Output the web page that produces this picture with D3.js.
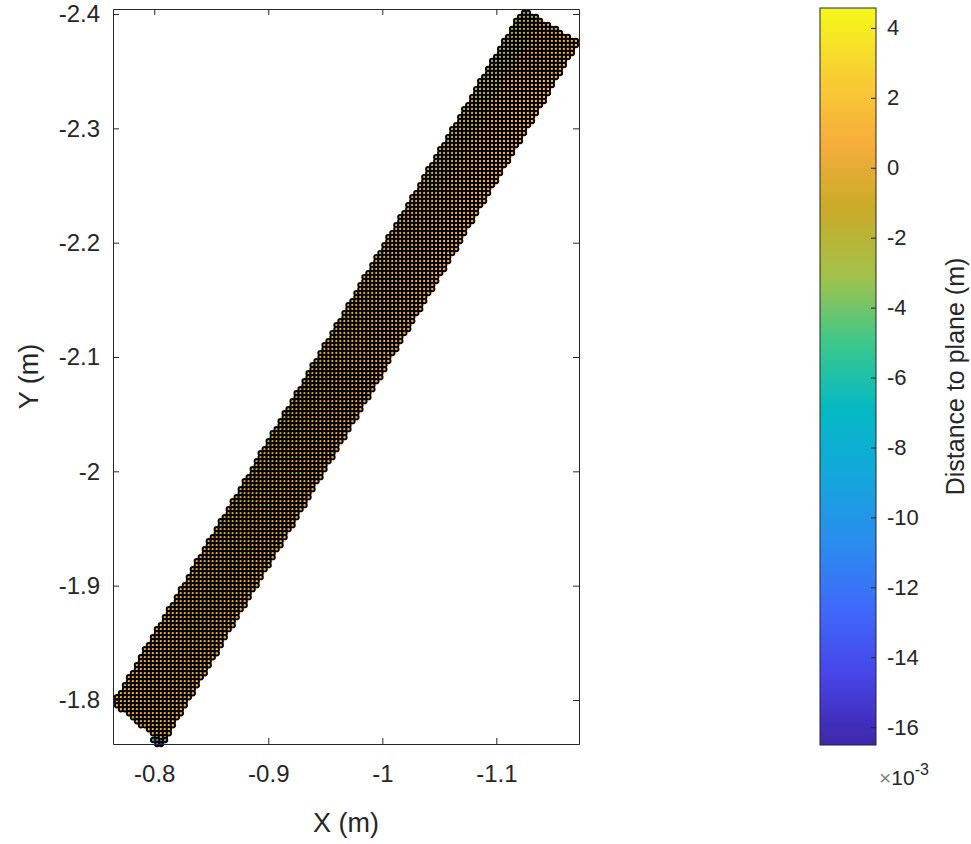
<!DOCTYPE html>
<html>
<head>
<meta charset="utf-8">
<script src="https://cdn.jsdelivr.net/npm/d3@7"></script>
<style>
  body { margin: 0; background: #fff; }
  svg { display: block; }
  text { font-family: "Liberation Sans", Arial, sans-serif; fill: #262626; }
</style>
</head>
<body>
<svg width="971" height="844"></svg>
<script>
"use strict";

// axis limits and ticks
const xLimits = [-0.7638, -1.1725];
const yLimits = [-1.7615, -2.4044];
const xTicks = [-0.8, -0.9, -1, -1.1];
const yTicks = [-2.4, -2.3, -2.2, -2.1, -2, -1.9, -1.8];
// colour range, in 1e-3 m
const cLimits = [-16.51, 4.57];
const cTicks = [4, 2, 0, -2, -4, -6, -8, -10, -12, -14, -16];

// the scanned strip: corners (top, right, bottom, left) and grid spacing of the cloud
const stripCorners = [[-1.1230, -2.4044], [-1.1725, -2.3755], [-0.8077, -1.7615], [-0.7638, -1.7972]];
const gridStep = 0.0035;

// distance to plane (1e-3 m) per block: rows go from bottom end to top end,
// columns from the upper-left edge to the lower-right edge
const distTable = [
    [1.0, 0.5, 1.0],
    [0.5, 0.0, 1.0],
    [-0.5, 0.0, 0.5],
    [-1.0, 0.0, 0.5],
    [-0.5, 0.0, 0.5],
    [-0.5, 0.0, 1.0],
    [-1.5, 0.0, 1.0],
    [-2.0, 0.5, 1.5]
];
// the few low points at the bottom tip [x, y, dist]
const lowPoints = [
    [-0.7990, -1.7650, -8.0],
    [-0.8025, -1.7650, -11.0],
    [-0.8025, -1.7615, -13.0],
    [-0.8060, -1.7615, -16.5],
    [-0.8095, -1.7650, -7.0]
];

// parula-like colour map
const parulaStops = ["#3e26a8", "#4743e6", "#3f68fb", "#2b8cef", "#14a6dc", "#03b9c4",
                     "#3cc88c", "#a3c24b", "#c9aa28", "#f7ae3c", "#f8cf33", "#f5f81a"];

window.addEventListener("load", drawChart);

function drawChart() {
    const svg = d3.select("svg");
    const box = {left: 113, right: 579, top: 9, bottom: 744};

    const x = d3.scaleLinear().domain(xLimits).range([box.left, box.right]);
    const y = d3.scaleLinear().domain(yLimits).range([box.bottom, box.top]);
    const parula = d3.scaleLinear()
        .domain(d3.range(parulaStops.length).map(i => i / (parulaStops.length - 1)))
        .range(parulaStops)
        .interpolate(d3.interpolateRgb);
    const color = d3.scaleLinear().domain(cLimits).range([0, 1]).clamp(true);

    // build the grid points that fall inside the strip
    const [A, B, C, D] = stripCorners;
    const m0 = [(C[0] + D[0]) / 2, (C[1] + D[1]) / 2];
    const m1 = [(A[0] + B[0]) / 2, (A[1] + B[1]) / 2];
    const ax = [m1[0] - m0[0], m1[1] - m0[1]];
    const len = Math.hypot(ax[0], ax[1]);
    const dir = [ax[0] / len, ax[1] / len];
    const perp = [dir[1], -dir[0]];
    const halfW = Math.abs((D[0] - m0[0]) * perp[0] + (D[1] - m0[1]) * perp[1]);

    const pts = [];
    for (let gx = xLimits[0]; gx >= xLimits[1] - 1e-9; gx -= gridStep) {
        for (let gy = yLimits[1]; gy <= yLimits[0] + 1e-9; gy += gridStep) {
            if (!d3.polygonContains(stripCorners, [gx, gy])) continue;
            const u = ((gx - m0[0]) * dir[0] + (gy - m0[1]) * dir[1]) / len;
            const v = ((gx - m0[0]) * perp[0] + (gy - m0[1]) * perp[1]) / halfW;
            const row = Math.max(0, Math.min(distTable.length - 1, Math.floor(u * distTable.length)));
            const col = Math.max(0, Math.min(2, Math.floor((v + 1) / 2 * 3)));
            pts.push({x: gx, y: gy, d: distTable[row][col]});
        }
    }
    lowPoints.forEach(p => pts.push({x: p[0], y: p[1], d: p[2]}));

    svg.append("g").selectAll("circle")
        .data(pts)
        .join("circle")
            .attr("cx", d => x(d.x))
            .attr("cy", d => y(d.y))
            .attr("r", 2.2)
            .attr("fill", d => parula(color(d.d)))
            .attr("stroke", "#000")
            .attr("stroke-width", 1.9);

    const tickLen = 6;
    const axisColor = "#262626";

    const xAxisBottom = svg.append("g")
        .attr("transform", `translate(0, ${box.bottom})`)
        .call(d3.axisBottom(x).tickValues(xTicks).tickSizeInner(-tickLen).tickSizeOuter(0).tickPadding(21).tickFormat(String));
    const xAxisTop = svg.append("g")
        .attr("transform", `translate(0, ${box.top})`)
        .call(d3.axisTop(x).tickValues(xTicks).tickSizeInner(-tickLen).tickSizeOuter(0).tickFormat(""));
    const yAxisLeft = svg.append("g")
        .attr("transform", `translate(${box.left}, 0)`)
        .call(d3.axisLeft(y).tickValues(yTicks).tickSizeInner(-tickLen).tickSizeOuter(0).tickPadding(13).tickFormat(String));
    const yAxisRight = svg.append("g")
        .attr("transform", `translate(${box.right}, 0)`)
        .call(d3.axisRight(y).tickValues(yTicks).tickSizeInner(-tickLen).tickSizeOuter(0).tickFormat(""));

    [xAxisBottom, xAxisTop, yAxisLeft, yAxisRight].forEach(g => {
        g.selectAll("path, line").attr("stroke", axisColor).attr("stroke-width", 1);
        g.selectAll("text")
            .attr("font-size", 24)
            .attr("font-family", "'Liberation Sans', Arial, sans-serif")
            .attr("fill", axisColor);
    });

    svg.append("text")
        .attr("x", (box.left + box.right) / 2)
        .attr("y", 832)
        .attr("text-anchor", "middle")
        .attr("font-size", 27)
        .text("X (m)");

    svg.append("text")
        .attr("transform", `translate(38 ${(box.top + box.bottom) / 2}) rotate(-90)`)
        .attr("text-anchor", "middle")
        .attr("font-size", 27)
        .text("Y (m)");

    // colour bar
    const cb = {left: 820, right: 876, top: 8, bottom: 745};
    const cy = d3.scaleLinear().domain(cLimits).range([cb.bottom, cb.top]);
    const grad = svg.append("defs").append("linearGradient")
        .attr("id", "cbGrad")
        .attr("x1", 0).attr("y1", 1).attr("x2", 0).attr("y2", 0);
    grad.selectAll("stop")
        .data(d3.range(0, 64))
        .join("stop")
            .attr("offset", i => i / 63)
            .attr("stop-color", i => parula(i / 63));
    svg.append("rect")
        .attr("x", cb.left).attr("y", cb.top)
        .attr("width", cb.right - cb.left).attr("height", cb.bottom - cb.top)
        .attr("fill", "url(#cbGrad)")
        .attr("stroke", axisColor)
        .attr("stroke-width", 1);

    const cAxis = svg.append("g")
        .attr("transform", `translate(${cb.right}, 0)`)
        .call(d3.axisRight(cy).tickValues(cTicks).tickSizeInner(-5).tickSizeOuter(0).tickPadding(11).tickFormat(String));
    cAxis.select("path").remove();
    cAxis.selectAll("line").attr("stroke", axisColor);
    cAxis.selectAll("text")
        .attr("font-size", 22)
        .attr("font-family", "'Liberation Sans', Arial, sans-serif")
        .attr("fill", axisColor);

    const mult = svg.append("text")
        .attr("x", 879)
        .attr("y", 785)
        .attr("font-size", 21);
    mult.append("tspan").attr("fill", "#808080").text("\u00d7");
    mult.append("tspan").text("10");
    mult.append("tspan").attr("dy", -10).attr("font-size", 16).text("-3");

    svg.append("text")
        .attr("transform", `translate(964 ${(cb.top + cb.bottom) / 2}) rotate(-90)`)
        .attr("text-anchor", "middle")
        .attr("font-size", 25)
        .text("Distance to plane (m)");
}
</script>
</body>
</html>
